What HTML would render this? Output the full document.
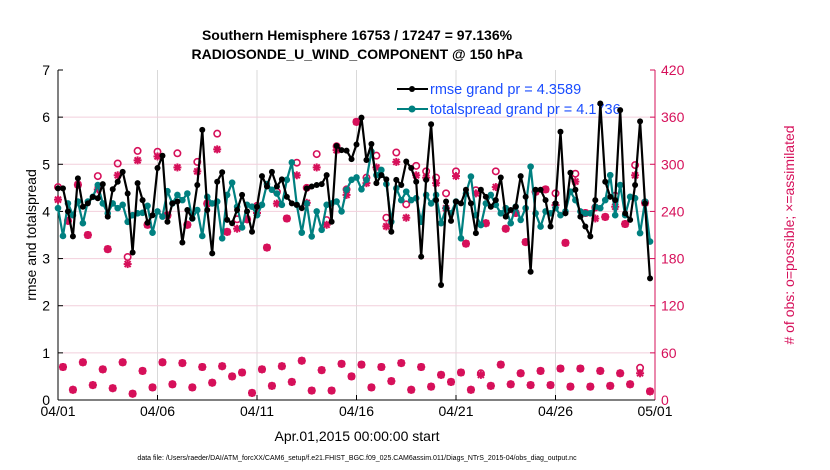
<!DOCTYPE html>
<html><head><meta charset="utf-8"><style>
html,body{margin:0;padding:0;background:#fff;}
svg{display:block;font-family:"Liberation Sans",Arial,sans-serif;}
</style></head><body>
<svg id="chart" width="830" height="470" viewBox="0 0 830 470" xmlns="http://www.w3.org/2000/svg">
<g id="grid"></g>
<g id="axes"></g>
<g id="legend">
  <line x1="397" y1="89" x2="428" y2="89" stroke="#000" stroke-width="2"/>
  <circle cx="412" cy="89" r="3" fill="#000"/>
  <text x="430" y="94" font-size="14.5" fill="#1a4dff">rmse grand pr = 4.3589</text>
  <line x1="397" y1="109" x2="428" y2="109" stroke="#008080" stroke-width="2"/>
  <circle cx="412" cy="109" r="3.5" fill="#008080"/>
  <text x="430" y="114" font-size="14.5" fill="#1a4dff">totalspread grand pr = 4.1736</text>
</g>
<g id="marks"></g>
<text x="357" y="40" font-size="14" font-weight="bold" text-anchor="middle">Southern Hemisphere 16753 / 17247 = 97.136%</text>
<text x="357" y="59" font-size="14" font-weight="bold" text-anchor="middle">RADIOSONDE_U_WIND_COMPONENT @ 150 hPa</text>
<text transform="translate(36,235) rotate(-90)" font-size="14" text-anchor="middle">rmse and totalspread</text>
<text transform="translate(794,235) rotate(-90)" font-size="14" fill="#d6105a" text-anchor="middle"># of obs: o=possible; ×=assimilated</text>
<text x="357" y="441" font-size="14" text-anchor="middle">Apr.01,2015 00:00:00 start</text>
<text x="357" y="460" font-size="7" text-anchor="middle">data file: /Users/raeder/DAI/ATM_forcXX/CAM6_setup/f.e21.FHIST_BGC.f09_025.CAM6assim.011/Diags_NTrS_2015-04/obs_diag_output.nc</text>
</svg>
<script>
const xTickLabels = ["04/01","04/06","04/11","04/16","04/21","04/26","05/01"];
const yTicks = [0,1,2,3,4,5,6,7];
const y2Ticks = [0,60,120,180,240,300,360,420];
const rmse = [4.49,4.49,4.0,3.47,4.70,4.10,4.17,4.31,4.28,4.58,3.89,4.47,4.63,4.84,4.38,3.13,4.60,4.24,3.76,3.92,4.92,5.18,3.78,4.17,4.21,3.34,4.03,3.85,4.56,5.73,4.03,3.11,4.63,4.83,3.82,3.75,4.03,4.35,4.0,3.57,4.10,4.75,
4.53,4.84,4.53,4.68,4.31,4.17,4.14,4.07,4.49,4.53,4.56,4.58,4.77,3.78,5.39,5.30,5.29,5.11,5.42,5.99,5.09,5.43,4.60,4.77,4.68,3.57,4.67,4.56,5.06,4.92,4.63,3.04,4.67,5.85,4.24,2.44,4.21,3.80,4.21,
4.17,4.46,4.17,3.54,4.46,4.31,4.10,4.24,4.72,3.89,4.03,4.10,4.75,4.31,2.72,4.46,4.46,4.24,3.68,4.17,5.69,3.96,4.82,4.46,3.89,3.68,3.47,4.24,6.29,4.63,4.31,4.24,6.15,3.96,3.82,4.56,5.91,4.17,2.58];
const spread = [4.07,3.48,4.17,3.92,4.21,3.75,4.21,4.31,4.56,4.17,3.96,4.17,4.07,4.14,3.78,3.92,3.96,3.97,4.12,3.55,4.0,3.89,4.43,4.17,4.35,4.24,4.38,3.85,4.03,3.48,4.31,4.17,4.21,3.43,4.35,4.61,4.10,3.66,4.14,4.10,3.92,4.14,
4.58,4.46,4.38,4.14,4.67,5.04,4.14,3.55,4.17,3.47,4.0,3.61,4.14,4.17,4.21,4.0,4.46,4.67,4.72,4.47,4.67,5.27,4.77,4.88,4.58,3.78,4.49,4.24,4.42,4.24,4.28,3.78,4.35,4.17,4.35,3.75,4.07,3.96,4.21,
3.43,4.38,4.74,3.92,3.71,4.17,4.35,4.14,3.96,4.07,3.75,4.10,3.82,4.07,4.95,3.96,3.68,4.0,3.96,4.07,3.92,4.0,4.42,4.24,4.0,3.96,3.96,4.10,4.07,4.24,4.77,3.92,4.56,3.92,4.31,4.28,3.54,4.21,3.36];
// obs at 00Z/12Z (even steps)
const obsAssimMain = [255,228,274,210,268,192,286,173,305,223,310,235,296,223,291,250,319,214,218,230,238,
194,250,231,286,251,296,223,318,261,354,276,296,221,303,232,286,283,276,244,285,
199,263,225,271,218,238,201,265,268,248,200,278,238,231,233,246,224,286,251];
const obsPossMain = [271,228,274,210,285,192,301,182,317,223,316,235,314,223,303,250,339,214,230,230,247,
194,265,231,302,270,313,229,323,268,354,283,311,232,315,249,298,291,283,263,291,
199,267,225,291,218,238,201,265,268,263,200,288,238,245,233,260,224,299,251];
// obs at 06Z/18Z (odd steps)
const obsAssimOff = [42,13,48,19,39,15,48,8,37,16,48,20,47,16,42,22,43,30,35,9,39,18,43,23,50,12,38,12,46,30,
45,16,42,24,47,13,42,17,32,23,35,13,32,18,45,20,34,19,37,19,40,17,40,17,37,18,34,20,34,11];
const obsPossOff = [42,13,48,19,39,15,48,8,37,16,48,20,47,16,42,22,43,30,35,9,39,18,43,23,50,12,38,12,46,30,
45,16,42,24,47,13,42,17,32,23,35,13,34,18,45,20,34,19,37,19,40,17,40,17,37,18,34,20,41,11];

const NS="http://www.w3.org/2000/svg";
const L=58,R=655,T=70,B=400,STEPS=120;
const xs=i=>L+i*(R-L)/STEPS;
const y1=v=>B-(v/7)*(B-T);
const y2=v=>B-(v/420)*(B-T);
function mk(tag,attrs,parent){const e=document.createElementNS(NS,tag);for(const k in attrs)e.setAttribute(k,attrs[k]);parent.appendChild(e);return e;}
const grid=document.getElementById('grid'),axes=document.getElementById('axes'),marks=document.getElementById('marks');
const crim="#d6105a";
xTickLabels.forEach((lab,i)=>{
  const x=L+i*(R-L)/(xTickLabels.length-1);
  if(i>0&&i<xTickLabels.length-1){const g=mk('line',{x1:x,y1:T,x2:x,y2:B,stroke:'#d9d9d9','stroke-width':1},grid);
  
  }
  const tk=mk('line',{x1:x,y1:B,x2:x,y2:B-5,stroke:'#000'},axes);
  
  
  const t=mk('text',{x:x,y:B+16,'font-size':14,'text-anchor':'middle'},axes);t.textContent=lab;
  
  
});
y2Ticks.forEach(v=>{
  const y=y2(v);
  if(v>0&&v<420){const g=mk('line',{x1:L,y1:y,x2:R,y2:y,stroke:'#f2cfdc','stroke-width':1},grid);
  
  }
  mk('line',{x1:R,y1:y,x2:R-5,y2:y,stroke:crim},axes);
  const t=mk('text',{x:R+6,y:y+5,'font-size':14,fill:crim},axes);t.textContent=v;
  
  
});
yTicks.forEach(v=>{
  const y=y1(v);
  mk('line',{x1:L,y1:y,x2:L+5,y2:y,stroke:'#000'},axes);
  const t=mk('text',{x:L-8,y:y+5,'font-size':14,'text-anchor':'end'},axes);t.textContent=v;
  
  
});
const ax1=mk('line',{x1:L,y1:T,x2:L,y2:B,stroke:'#000','stroke-width':1},axes);


const ax2=mk('line',{x1:R,y1:T,x2:R,y2:B,stroke:crim,'stroke-width':1},axes);


const ax3=mk('line',{x1:L,y1:B,x2:R,y2:B,stroke:'#000','stroke-width':1},axes);



function drawObs(arrA,arrP,offset,name){
  arrA.forEach((v,k)=>{
    const x=xs(2*k+offset);
    const p=arrP[k];
    const c=mk('circle',{cx:x,cy:y2(p),r:3.2,fill:'none',stroke:crim,'stroke-width':1.6},marks);
    
    
    const y=y2(v);
    const g=mk('g',{stroke:crim,'stroke-width':2},marks);
    
    
    mk('line',{x1:x-4,y1:y,x2:x+4,y2:y},g);
    mk('line',{x1:x,y1:y-4,x2:x,y2:y+4},g);
    mk('line',{x1:x-3,y1:y-3,x2:x+3,y2:y+3},g);
    mk('line',{x1:x-3,y1:y+3,x2:x+3,y2:y-3},g);
  });
}
drawObs(obsAssimMain,obsPossMain,0,'obs-main');
drawObs(obsAssimOff,obsPossOff,1,'obs-off');

function drawSeries(arr,color,r,name){
  const pts=arr.map((v,i)=>xs(i).toFixed(1)+','+y1(v).toFixed(1)).join(' ');
  const pl=mk('polyline',{points:pts,fill:'none',stroke:color,'stroke-width':2.2,'stroke-linejoin':'round'},marks);
  
  
  arr.forEach((v,i)=>{
    const c=mk('circle',{cx:xs(i),cy:y1(v),r:r,fill:color},marks);
    
    
  });
}
drawSeries(spread,'#008080',3.3,'totalspread');
drawSeries(rmse,'#000000',3,'rmse');
</script>
</body></html>
